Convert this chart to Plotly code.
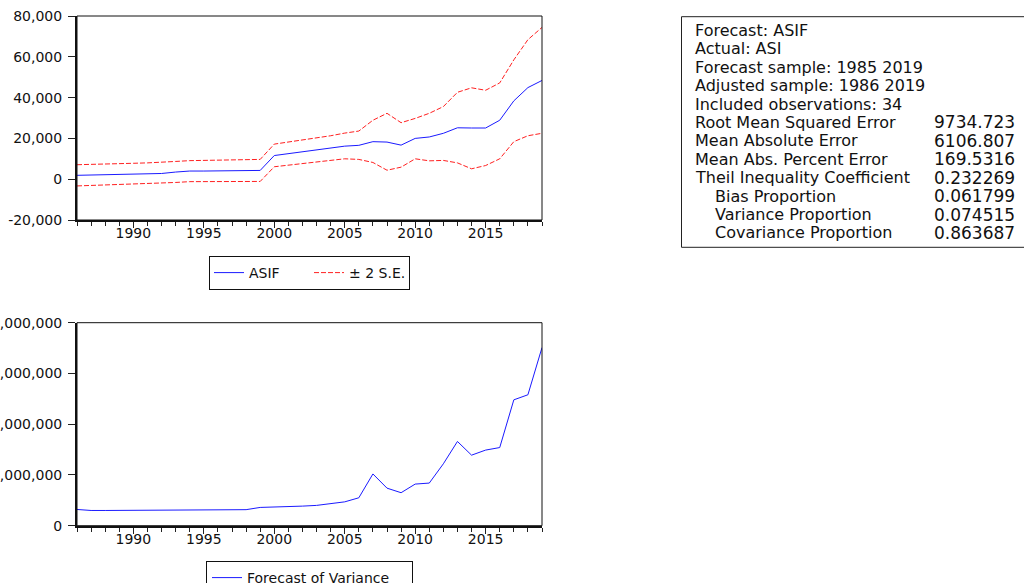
import plotly.graph_objects as go

# ---- data -------------------------------------------------------------
years = list(range(1986, 2020))

asif = [1.9, 2.0, 2.2, 2.3, 2.5, 2.6, 2.8, 3.5, 4.0, 4.0, 4.1, 4.1, 4.2, 4.3,
        11.6, 12.5, 13.4, 14.3, 15.2, 16.2, 16.6, 18.4, 18.2, 16.7, 20.0,
        20.7, 22.5, 25.2, 25.1, 25.1, 28.9, 38.4, 44.9, 48.4]
asif = [v * 1000 for v in asif]

upper = [7.1, 7.2, 7.4, 7.6, 7.8, 8.0, 8.2, 8.7, 9.1, 9.2, 9.2, 9.3, 9.4, 9.7,
         17.2, 18.2, 19.2, 20.2, 21.3, 22.6, 23.6, 28.9, 32.3, 27.7, 29.8,
         32.3, 35.6, 42.6, 44.8, 43.6, 47.2, 58.5, 68.4, 74.4]
upper = [v * 1000 for v in upper]

lower = [-3.3, -3.1, -2.9, -2.7, -2.5, -2.3, -2.1, -1.6, -1.2, -1.2, -1.2,
         -1.2, -1.1, -1.1, 6.1, 6.9, 7.7, 8.5, 9.3, 10.0, 9.7, 8.2, 4.4, 5.9,
         10.0, 9.0, 9.2, 8.0, 5.1, 6.7, 10.0, 18.4, 21.3, 22.5]
lower = [v * 1000 for v in lower]

variance = [16.0, 15.0, 15.0, 15.1, 15.1, 15.1, 15.2, 15.3, 15.4, 15.5, 15.6,
            15.7, 15.8, 18.0, 18.3, 18.7, 19.3, 20.0, 21.5, 23.5, 27.5, 51.0,
            37.0, 32.5, 41.0, 42.0, 61.0, 83.0, 69.5, 74.5, 77.0, 124.0,
            129.0, 175.5]
variance = [v * 1_000_000 for v in variance]

top_ticks = [-20000, 0, 20000, 40000, 60000, 80000]
bottom_ticks = [0, 50_000_000, 100_000_000, 150_000_000, 200_000_000]
year_ticks = [1990, 1995, 2000, 2005, 2010, 2015]

stat_labels = ["Forecast: ASIF", "Actual: ASI", "Forecast sample: 1985 2019",
               "Adjusted sample: 1986 2019", "Included observations: 34",
               "Root Mean Squared Error", "Mean Absolute Error",
               "Mean Abs. Percent Error", "Theil Inequality Coefficient",
               "Bias Proportion", "Variance Proportion",
               "Covariance Proportion"]
stat_values = ["", "", "", "", "", "9734.723", "6106.807", "169.5316",
               "0.232269", "0.061799", "0.074515", "0.863687"]
stat_indent = [False] * 9 + [True] * 3

# ---- page geometry (pixels) ------------------------------------------
W, H = 1024, 583
FONT = "DejaVu Sans"


def px(x):
    return x / W


def py(y):
    return 1 - y / H


BLUE = "#1a1aff"
RED = "#ff2020"

fig = go.Figure()

fig.add_trace(go.Scatter(x=years, y=asif, mode="lines", name="ASIF",
                         line=dict(color=BLUE, width=1),
                         xaxis="x", yaxis="y", legend="legend"))
fig.add_trace(go.Scatter(x=years, y=upper, mode="lines", name="± 2 S.E.",
                         line=dict(color=RED, width=1, dash="5px,2px"),
                         legendgroup="se", xaxis="x", yaxis="y",
                         legend="legend"))
fig.add_trace(go.Scatter(x=years, y=lower, mode="lines", name="± 2 S.E.",
                         line=dict(color=RED, width=1, dash="5px,2px"),
                         legendgroup="se", showlegend=False,
                         xaxis="x", yaxis="y", legend="legend"))
fig.add_trace(go.Scatter(x=years, y=variance, mode="lines",
                         name="Forecast of Variance",
                         line=dict(color=BLUE, width=1),
                         xaxis="x2", yaxis="y2", legend="legend2"))

xdom = [px(77), px(542)]
tickfont = dict(family=FONT, size=14, color="#111")

xcommon = dict(range=[1986, 2019], tickvals=year_ticks,
               ticks="outside", ticklen=6, tickwidth=1, tickcolor="#222",
               showline=True, linecolor="#111", linewidth=2,
               showgrid=False, zeroline=False, tickfont=tickfont,
               automargin=False, ticklabelstandoff=-7,
               minor=dict(dtick=1, tick0=1986, ticks="outside", ticklen=4,
                          tickwidth=1, tickcolor="#222", showgrid=False))
ycommon = dict(ticks="outside", ticklen=7, tickwidth=1, tickcolor="#222",
               showline=True, linecolor="#111", linewidth=2,
               showgrid=False, zeroline=False, tickfont=tickfont,
               automargin=False, ticklabelstandoff=3)

fig.update_layout(
    width=W, height=H,
    margin=dict(l=0, r=0, t=0, b=0, autoexpand=False),
    paper_bgcolor="white", plot_bgcolor="white",
    template="none",
    font=dict(family=FONT, size=14, color="#111"),
    xaxis=dict(domain=xdom, anchor="y", **xcommon),
    yaxis=dict(domain=[py(220), py(16)], anchor="x",
               range=[-20000, 80000], tickvals=top_ticks,
               ticktext=[f"{v:,}" for v in top_ticks], **ycommon),
    xaxis2=dict(domain=xdom, anchor="y2", **xcommon),
    yaxis2=dict(domain=[py(525.7), py(322.7)], anchor="x2",
                range=[0, 200_000_000], tickvals=bottom_ticks,
                ticktext=[f"{v:,}" for v in bottom_ticks], **ycommon),
    legend=dict(orientation="h", x=px(309.5), y=py(256), xanchor="center",
                yanchor="top", bordercolor="#111", borderwidth=1,
                bgcolor="white", font=dict(family=FONT, size=14),
                itemwidth=30, entrywidth=55),
    legend2=dict(orientation="h", x=px(309.5), y=py(561), xanchor="center",
                 yanchor="top", bordercolor="#111", borderwidth=1,
                 bgcolor="white", font=dict(family=FONT, size=14),
                 itemwidth=30, entrywidth=160),
    showlegend=True,
)

# plot frames (thin top/right borders)
for xr, yr in (("x domain", "y domain"), ("x2 domain", "y2 domain")):
    fig.add_shape(type="rect", xref=xr, yref=yr, x0=0, x1=1, y0=0, y1=1,
                  line=dict(color="#111", width=1), layer="above")

# statistics box
fig.add_shape(type="rect", xref="paper", yref="paper",
              x0=px(681.5), x1=px(1040), y0=py(247.3), y1=py(16.7),
              line=dict(color="#222", width=1))

row0, step = 30.5, 18.4
for i, (lab, val, ind) in enumerate(zip(stat_labels, stat_values,
                                         stat_indent)):
    yy = py(row0 + i * step)
    fig.add_annotation(xref="paper", yref="paper", x=px(713 if ind else 693),
                       y=yy, text=lab, showarrow=False, xanchor="left",
                       yanchor="middle",
                       font=dict(family=FONT, size=16, color="#111"))
    if val:
        fig.add_annotation(xref="paper", yref="paper", x=px(932), y=yy,
                           text=val, showarrow=False, xanchor="left",
                           yanchor="middle",
                           font=dict(family=FONT, size=17, color="#111"))

fig.write_html("out.html")
